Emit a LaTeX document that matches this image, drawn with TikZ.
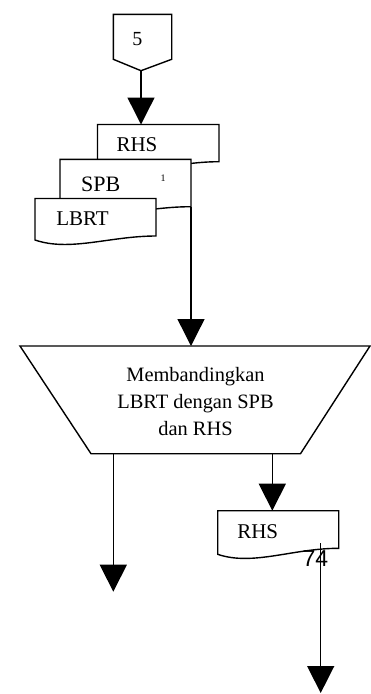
\documentclass[tikz,border=0pt]{standalone}
\usepackage{fontspec}
\setmainfont{Liberation Serif}
\newfontfamily\pagenumfont{Liberation Sans}
\usetikzlibrary{arrows.meta}

\tikzset{
  x=1pt, y=-1pt,
  outline/.style={line width=1.4pt, fill=white, line join=miter},
  flow/.style={line width=1.4pt, -{Triangle[length=27pt,width=27pt]}},
  plain/.style={line width=1.4pt},
  lbl/.style={inner sep=0pt, anchor=base, font=\fontsize{21}{25}\selectfont},
  proc/.style={inner sep=0pt, anchor=base, font=\fontsize{20.4}{26}\selectfont},
}

\begin{document}
\begin{tikzpicture}
\useasboundingbox (0,0) rectangle (371,694);

% off-page connector
\draw[outline] (113.3,14.3) -- (171.7,14.3) -- (171.7,59.3) -- (141,70.7) -- (113.3,59.3) -- cycle;
\node[lbl, font=\fontsize{20}{24}\selectfont] (five) at (137.3,45) {5};
\coordinate (offtip) at (141,70.7);

% stacked documents: RHS, SPB, LBRT
\draw[outline] (97.5,124.5) -- (219,124.5) -- (219,161.7)
  .. controls (173,161.7) and (133,178) .. (97.5,166) -- cycle;
\node[lbl] (rhsA) at (137,151.3) {RHS};
\coordinate (rhsAtop) at (141,124.5);

\draw[outline] (60,159.3) -- (191,159.3) -- (191,206.7)
  .. controls (141,206.7) and (98,223) .. (60,211) -- cycle;
\node[lbl, font=\fontsize{22}{26}\selectfont] (spb) at (100.8,191.7) {SPB};
\node[inner sep=0pt, font=\fontsize{10}{12}\selectfont] (spbnote) at (163,178.5) {1};
\coordinate (spbcorner) at (191,206.7);

\draw[outline] (35,198.5) -- (156,198.5) -- (156,236)
  .. controls (110,236) and (70,252) .. (35,240) -- cycle;
\node[lbl] (lbrt) at (82.5,225) {LBRT};

% process block
\draw[outline] (20,346) -- (370,346) -- (300.5,453.7) -- (91,453.7) -- cycle;
\node[proc] (procA) at (195.5,381.7) {Membandingkan};
\node[proc] (procB) at (195.5,408.3) {LBRT dengan SPB};
\node[proc] (procC) at (195.5,435) {dan RHS};
\coordinate (proctop) at (191,346);
\coordinate (procoutL) at (113.3,453.7);
\coordinate (procoutR) at (272.3,453.7);

% output document
\draw[outline] (217.7,510.7) -- (338.7,510.7) -- (338.7,548.3)
  .. controls (292.7,548.3) and (252.7,566.3) .. (217.7,554.3) -- cycle;
\node[lbl] (rhsB) at (257.7,538.3) {RHS};
\coordinate (rhsBtop) at (272.3,510.7);
\coordinate (rhsBout) at (320.7,543.3);

% flow lines
\coordinate (endL) at (113.3,591.7);
\coordinate (endR) at (320.7,693);
\draw[flow] (offtip) -- (rhsAtop);
\draw[flow] (spbcorner) -- (proctop);
\draw[flow] (procoutL) -- (endL);
\draw[flow] (procoutR) -- (rhsBtop);
\draw[flow] (rhsBout) -- (endR);

% page number
\node[inner sep=0pt, anchor=base, font=\pagenumfont\fontsize{23}{27}\selectfont] (pagenum) at (315.5,566.7) {74};
\end{tikzpicture}
\end{document}
